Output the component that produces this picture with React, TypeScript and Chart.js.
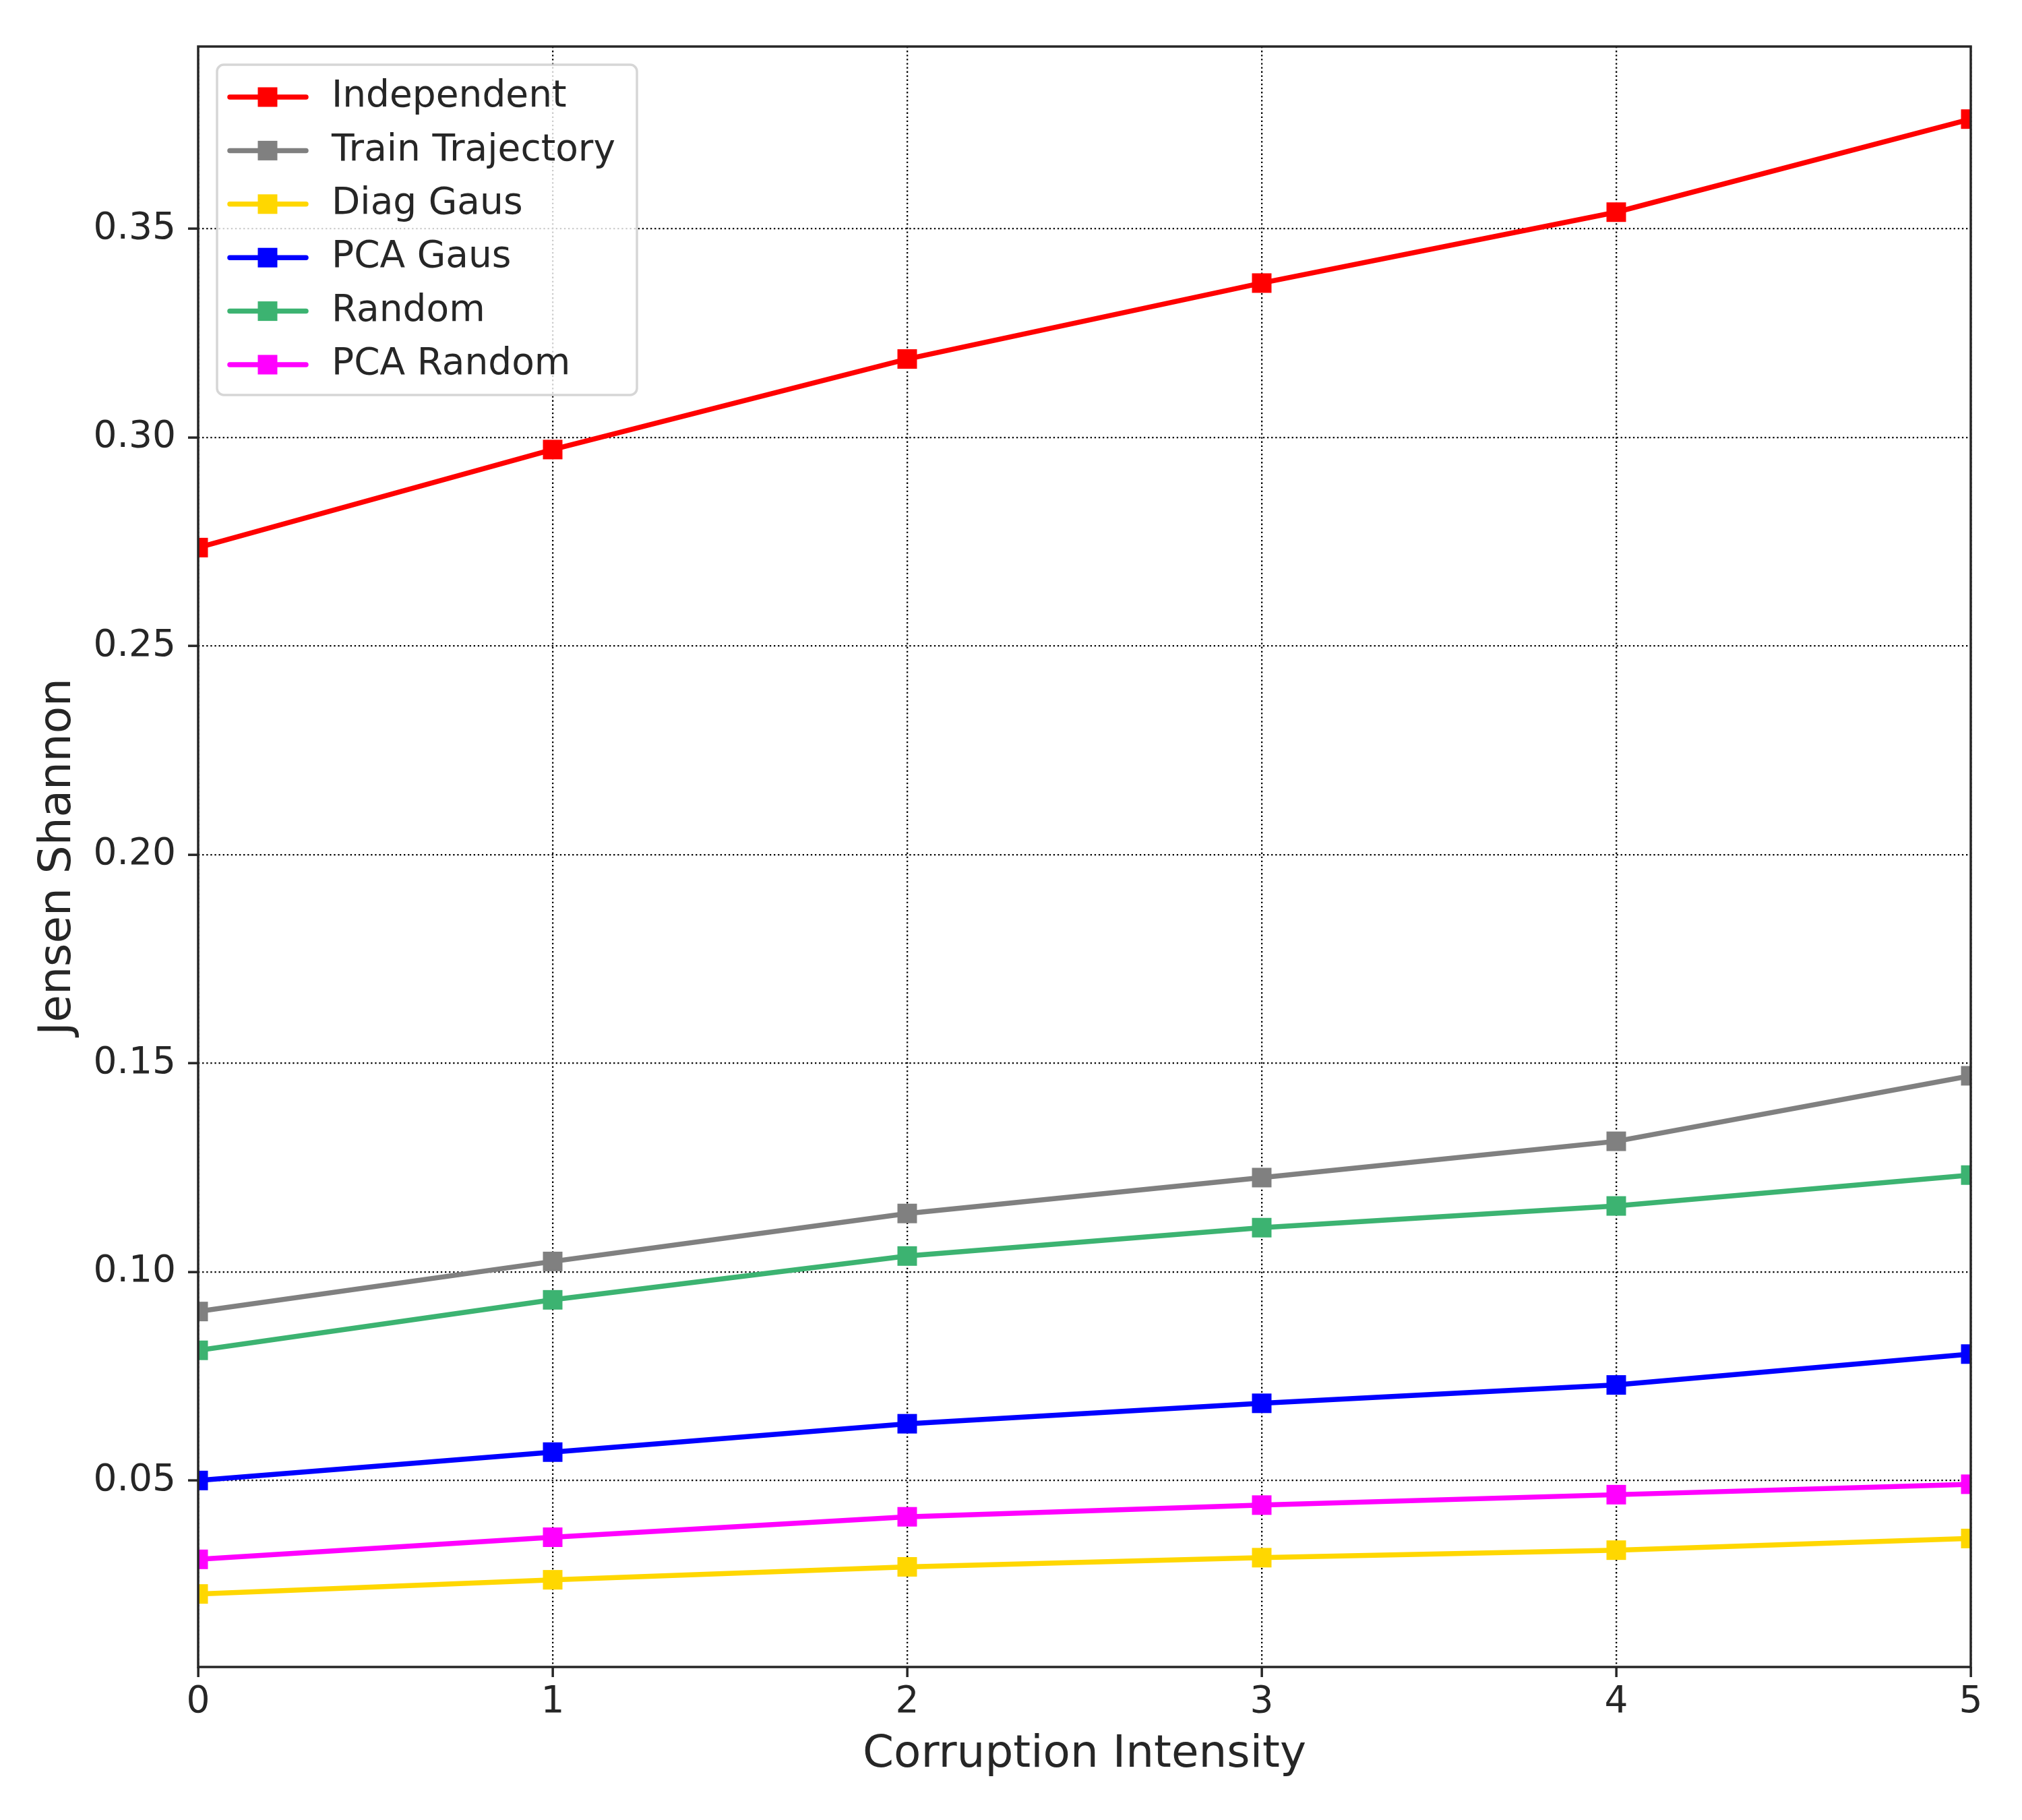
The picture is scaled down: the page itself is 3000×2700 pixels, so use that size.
import { useEffect, useRef } from 'react';
import { Chart, registerables } from 'chart.js';

Chart.register(...registerables);

// Corruption intensity levels (x axis)
const intensities = [0, 1, 2, 3, 4, 5];

// Jensen Shannon values
const independent = [0.2736, 0.2971, 0.3188, 0.337, 0.354, 0.3763];
const trainTrajectory = [0.0905, 0.1025, 0.114, 0.1226, 0.1313, 0.147];
const diagGaus = [0.0228, 0.0262, 0.0293, 0.0315, 0.0333, 0.0361];
const pcaGaus = [0.05, 0.0568, 0.0636, 0.0685, 0.0729, 0.0803];
const randomSeries = [0.0812, 0.0933, 0.1038, 0.1106, 0.1158, 0.1232];
const pcaRandom = [0.0311, 0.0364, 0.0413, 0.0441, 0.0466, 0.0491];

const seriesNames = ['Independent', 'Train Trajectory', 'Diag Gaus', 'PCA Gaus', 'Random', 'PCA Random'];
const seriesValues = [independent, trainTrajectory, diagGaus, pcaGaus, randomSeries, pcaRandom];
const seriesColors = ['#ff0000', '#808080', '#ffd700', '#0000ff', '#3cb371', '#ff00ff'];

const xTicks = [0, 1, 2, 3, 4, 5];
const yTicks = [0.05, 0.1, 0.15, 0.2, 0.25, 0.3, 0.35];
const Y_MIN = 0.0053;
const Y_MAX = 0.3937;

const FONT = "'DejaVu Sans', sans-serif";
const TEXT = '#262626';

// spines + legend drawn inside the plot like matplotlib does
const framePlugin = {
  id: 'frameAndLegend',
  afterDatasetsDraw(chart: any) {
    const { ctx, chartArea } = chart;
    ctx.save();

    ctx.strokeStyle = TEXT;
    ctx.lineWidth = 3.5;
    ctx.strokeRect(chartArea.left, chartArea.top, chartArea.right - chartArea.left, chartArea.bottom - chartArea.top);

    // legend box
    const bx = 322, by = 96, bw = 623, bh = 490, r = 10;
    ctx.beginPath();
    ctx.moveTo(bx + r, by);
    ctx.arcTo(bx + bw, by, bx + bw, by + bh, r);
    ctx.arcTo(bx + bw, by + bh, bx, by + bh, r);
    ctx.arcTo(bx, by + bh, bx, by, r);
    ctx.arcTo(bx, by, bx + bw, by, r);
    ctx.closePath();
    ctx.fillStyle = 'rgba(255,255,255,0.8)';
    ctx.fill();
    ctx.strokeStyle = 'rgba(204,204,204,0.8)';
    ctx.lineWidth = 3.5;
    ctx.stroke();

    ctx.font = `55px ${FONT}`;
    ctx.textBaseline = 'middle';
    ctx.textAlign = 'left';
    chart.data.datasets.forEach((ds: any, i: number) => {
      const y = 144 + i * 79.4;
      ctx.strokeStyle = ds.borderColor;
      ctx.lineWidth = 7.5;
      ctx.lineCap = 'round';
      ctx.beginPath();
      ctx.moveTo(341, y);
      ctx.lineTo(454, y);
      ctx.stroke();
      ctx.fillStyle = ds.borderColor;
      ctx.fillRect(397 - 14.5, y - 14.5, 29, 29);
      ctx.fillStyle = TEXT;
      ctx.fillText(ds.label, 492, y);
    });

    ctx.restore();
  },
};

export default function App() {
  const canvasRef = useRef<HTMLCanvasElement>(null);

  useEffect(() => {
    document.body.style.margin = '0';
    if (!canvasRef.current) return;

    const chart = new Chart(canvasRef.current, {
      type: 'line',
      data: {
        datasets: seriesNames.map((name, i) => ({
          label: name,
          data: intensities.map((x, j) => ({ x, y: seriesValues[i][j] })),
          borderColor: seriesColors[i],
          backgroundColor: seriesColors[i],
          pointBackgroundColor: seriesColors[i],
          pointBorderColor: seriesColors[i],
          borderWidth: 7.5,
          pointStyle: 'rect',
          pointRadius: 20.5,
          pointBorderWidth: 0,
          tension: 0,
          fill: false,
          clip: 0,
          order: seriesNames.length - i,
        })),
      },
      options: {
        responsive: false,
        devicePixelRatio: 1,
        animation: false,
        layout: { padding: { top: 69, right: 76, left: 0, bottom: 0 } },
        plugins: {
          legend: { display: false },
          tooltip: { enabled: false },
        },
        scales: {
          x: {
            type: 'linear',
            min: 0,
            max: 5,
            afterBuildTicks: (scale: any) => {
              scale.ticks = xTicks.map((value) => ({ value }));
            },
            afterFit: (scale: any) => {
              scale.height = 227;
            },
            ticks: {
              color: TEXT,
              font: { family: FONT, size: 55 },
              padding: 5,
              maxRotation: 0,
              callback: (v: any) => String(v),
            },
            grid: {
              color: '#000',
              lineWidth: 2.3,
              tickLength: 15,
              tickColor: TEXT,
              tickWidth: 3.5,
              tickBorderDash: [],
            },
            border: { display: false, dash: [2.3, 3.8] },
            title: {
              display: true,
              text: 'Corruption Intensity',
              color: TEXT,
              font: { family: FONT, size: 66 },
              padding: { top: 0, bottom: 57 },
            },
          },
          y: {
            type: 'linear',
            min: Y_MIN,
            max: Y_MAX,
            afterBuildTicks: (scale: any) => {
              scale.ticks = yTicks.map((value) => ({ value }));
            },
            afterFit: (scale: any) => {
              scale.width = 294;
            },
            ticks: {
              color: TEXT,
              font: { family: FONT, size: 55 },
              padding: 18,
              callback: (v: any) => Number(v).toFixed(2),
            },
            grid: {
              color: '#000',
              lineWidth: 2.3,
              tickLength: 15,
              tickColor: TEXT,
              tickWidth: 3.5,
              tickBorderDash: [],
            },
            border: { display: false, dash: [2.3, 3.8] },
            title: {
              display: true,
              text: 'Jensen Shannon',
              color: TEXT,
              font: { family: FONT, size: 66 },
              padding: { top: 47, bottom: 0 },
            },
          },
        },
      },
      plugins: [framePlugin],
    });

    return () => chart.destroy();
  }, []);

  return (
    <div style={{ width: 3000, height: 2700, background: '#fff' }}>
      <canvas ref={canvasRef} width={3000} height={2700} />
    </div>
  );
}
